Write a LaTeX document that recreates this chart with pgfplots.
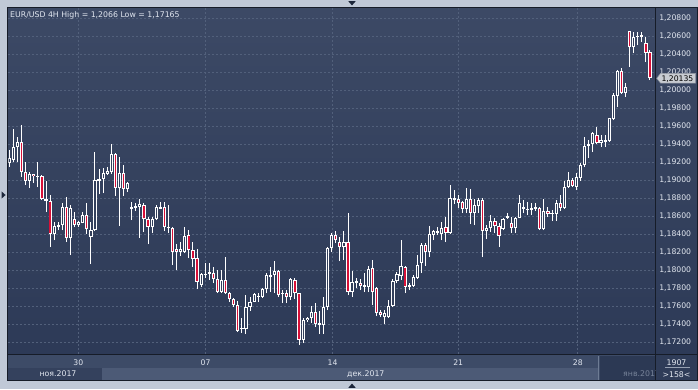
\documentclass[border=0pt]{standalone}
\usepackage{pgfplots}
\pgfplotsset{compat=1.18}
\usepackage{pgfplotstable}
\usepackage{fontspec}
\setmainfont{DejaVu Sans}
\definecolor{outerbg}{RGB}{192,201,215}
\definecolor{bgtop}{RGB}{60,73,101}
\definecolor{bgbot}{RGB}{45,58,87}
\definecolor{gridc}{RGB}{82,96,123}
\definecolor{candred}{RGB}{215,16,56}
\definecolor{hollow}{RGB}{51,64,92}
\definecolor{txt}{RGB}{226,231,240}
\definecolor{framec}{RGB}{22,28,40}
\definecolor{dayrow}{RGB}{61,75,103}
\definecolor{monleft}{RGB}{52,65,93}
\definecolor{monstrip}{RGB}{76,90,118}
\definecolor{mondark}{RGB}{44,57,84}
\definecolor{sepline}{RGB}{110,124,148}
\definecolor{boxbg}{RGB}{47,60,88}
\definecolor{dimtxt}{RGB}{118,130,152}
\definecolor{boxline}{RGB}{150,160,178}
\definecolor{pricebg}{RGB}{200,204,210}
\definecolor{priceedge}{RGB}{140,146,158}
\definecolor{navtri}{RGB}{28,38,58}

\pgfplotstableread{
i o h l c
1 1.19192 1.19336 1.19147 1.19247
2 1.19225 1.19570 1.19203 1.19370
3 1.19370 1.19481 1.19203 1.19425
6 1.18992 1.19092 1.18914 1.19070
10 1.18770 1.18992 1.18647 1.18792
12 1.18403 1.18536 1.18336 1.18492
13 1.18481 1.18536 1.18447 1.18503
14 1.18503 1.18747 1.18447 1.18703
16 1.18359 1.18725 1.18170 1.18692
18 1.18503 1.18547 1.18481 1.18536
19 1.18525 1.18647 1.18525 1.18614
21 1.18370 1.18536 1.18070 1.18447
22 1.18447 1.19314 1.18436 1.19003
23 1.18992 1.19125 1.18847 1.19014
24 1.19014 1.19136 1.18859 1.19081
25 1.19070 1.19147 1.19059 1.19103
26 1.19092 1.19403 1.19070 1.19292
28 1.18914 1.19259 1.18492 1.19081
30 1.18903 1.18981 1.18870 1.18970
31 1.18681 1.18759 1.18559 1.18703
32 1.18692 1.18747 1.18659 1.18714
33 1.18703 1.18792 1.18359 1.18736
36 1.18481 1.18592 1.18414 1.18570
37 1.18570 1.18725 1.18559 1.18703
38 1.18681 1.18759 1.18681 1.18703
40 1.18470 1.18725 1.18414 1.18481
43 1.18203 1.18314 1.18159 1.18236
44 1.18203 1.18481 1.18192 1.18381
48 1.17836 1.17970 1.17814 1.17959
49 1.17947 1.18081 1.17914 1.17959
50 1.17959 1.18081 1.17892 1.17981
53 1.17759 1.18003 1.17747 1.17892
58 1.17347 1.17470 1.17303 1.17359
59 1.17347 1.17725 1.17292 1.17592
60 1.17592 1.17703 1.17547 1.17647
61 1.17647 1.17747 1.17647 1.17736
62 1.17703 1.17747 1.17647 1.17714
63 1.17703 1.17803 1.17692 1.17792
64 1.17792 1.17970 1.17747 1.17947
65 1.17925 1.18036 1.17759 1.17947
66 1.17947 1.18103 1.17747 1.17992
68 1.17736 1.17781 1.17636 1.17747
70 1.17703 1.17914 1.17670 1.17903
73 1.17225 1.17470 1.17192 1.17447
74 1.17447 1.17481 1.17425 1.17470
75 1.17470 1.17603 1.17414 1.17536
78 1.17392 1.17703 1.17292 1.17592
79 1.17592 1.18259 1.17559 1.18247
80 1.18247 1.18414 1.18203 1.18392
83 1.18259 1.18436 1.18114 1.18314
85 1.17759 1.17992 1.17703 1.17870
88 1.17814 1.17970 1.17759 1.17836
89 1.17814 1.18047 1.17759 1.18014
93 1.17481 1.17559 1.17403 1.17525
94 1.17481 1.17670 1.17470 1.17603
95 1.17603 1.17903 1.17592 1.17881
96 1.17881 1.17981 1.17859 1.17959
97 1.17936 1.18336 1.17892 1.18047
99 1.17814 1.17859 1.17781 1.17836
100 1.17825 1.17947 1.17814 1.17925
101 1.17914 1.18170 1.17903 1.18059
102 1.18081 1.18303 1.17970 1.18281
104 1.18203 1.18492 1.18147 1.18403
105 1.18392 1.18447 1.18336 1.18436
106 1.18414 1.18481 1.18392 1.18436
107 1.18403 1.18536 1.18336 1.18470
109 1.18414 1.18947 1.18403 1.18803
110 1.18781 1.18892 1.18736 1.18803
113 1.18681 1.18914 1.18636 1.18792
115 1.18636 1.18792 1.18503 1.18725
116 1.18714 1.18803 1.18636 1.18781
118 1.18436 1.18503 1.18347 1.18470
119 1.18470 1.18614 1.18425 1.18547
122 1.18459 1.18581 1.18447 1.18570
123 1.18581 1.18636 1.18570 1.18603
125 1.18470 1.18592 1.18414 1.18581
126 1.18581 1.18836 1.18581 1.18747
127 1.18681 1.18781 1.18636 1.18703
128 1.18670 1.18759 1.18614 1.18681
129 1.18670 1.18747 1.18614 1.18692
130 1.18681 1.18747 1.18659 1.18703
132 1.18459 1.18792 1.18447 1.18659
134 1.18625 1.18670 1.18547 1.18636
135 1.18625 1.18781 1.18547 1.18747
137 1.18692 1.18992 1.18681 1.18925
138 1.18925 1.19092 1.18914 1.19003
140 1.18925 1.19081 1.18892 1.19036
141 1.19025 1.19192 1.18992 1.19170
142 1.19170 1.19481 1.19147 1.19381
143 1.19381 1.19447 1.19247 1.19403
144 1.19403 1.19536 1.19314 1.19525
146 1.19414 1.19503 1.19370 1.19447
147 1.19425 1.19503 1.19370 1.19447
148 1.19436 1.19692 1.19425 1.19692
149 1.19681 1.19970 1.19670 1.19947
150 1.19936 1.20225 1.19814 1.20214
152 1.19970 1.20081 1.19925 1.20036
154 1.20481 1.20647 1.20414 1.20592
155 1.20592 1.20647 1.20503 1.20603
156 1.20592 1.20647 1.20536 1.20614
}\bull

\pgfplotstableread{
i o h l c
4 1.19425 1.19614 1.19036 1.19092
5 1.19092 1.19203 1.18947 1.18992
7 1.19070 1.19070 1.18970 1.19047
8 1.19047 1.19203 1.18925 1.19036
9 1.19047 1.19059 1.18781 1.18792
11 1.18770 1.18836 1.18259 1.18403
15 1.18703 1.18814 1.18314 1.18359
17 1.18570 1.18647 1.18481 1.18503
20 1.18614 1.18747 1.18403 1.18459
27 1.19292 1.19303 1.18825 1.18914
29 1.19081 1.19170 1.18825 1.18903
34 1.18725 1.18747 1.18425 1.18570
35 1.18570 1.18592 1.18292 1.18481
39 1.18703 1.18759 1.18436 1.18481
41 1.18470 1.18481 1.18059 1.18203
42 1.18236 1.18292 1.18003 1.18203
45 1.18392 1.18447 1.18136 1.18225
46 1.18225 1.18314 1.18036 1.18125
47 1.18136 1.18236 1.17792 1.17870
51 1.17970 1.18036 1.17859 1.17903
52 1.17903 1.18003 1.17747 1.17759
54 1.17892 1.18147 1.17736 1.17747
55 1.17747 1.17759 1.17647 1.17681
56 1.17681 1.17692 1.17592 1.17614
57 1.17614 1.17659 1.17314 1.17325
67 1.17992 1.18003 1.17703 1.17725
69 1.17747 1.17781 1.17636 1.17703
71 1.17892 1.17914 1.17681 1.17747
72 1.17747 1.17747 1.17170 1.17225
76 1.17536 1.17636 1.17370 1.17403
77 1.17414 1.17547 1.17292 1.17392
81 1.18392 1.18436 1.18303 1.18336
82 1.18314 1.18370 1.18103 1.18259
84 1.18314 1.18636 1.17725 1.17759
86 1.17881 1.17914 1.17803 1.17859
87 1.17859 1.17903 1.17781 1.17825
90 1.18025 1.18114 1.17614 1.17759
91 1.17803 1.17814 1.17492 1.17525
92 1.17536 1.17559 1.17481 1.17503
98 1.18036 1.18047 1.17747 1.17814
103 1.18281 1.18303 1.18047 1.18203
108 1.18481 1.18592 1.18314 1.18414
111 1.18792 1.18836 1.18692 1.18747
112 1.18759 1.18770 1.18636 1.18681
114 1.18792 1.18903 1.18514 1.18636
117 1.18781 1.18803 1.18147 1.18436
120 1.18547 1.18581 1.18414 1.18492
121 1.18492 1.18525 1.18259 1.18381
124 1.18525 1.18592 1.18414 1.18470
131 1.18692 1.18703 1.18447 1.18459
133 1.18659 1.18703 1.18592 1.18625
136 1.18747 1.18836 1.18659 1.18692
139 1.19003 1.19025 1.18925 1.18936
145 1.19503 1.19592 1.19403 1.19414
151 1.20214 1.20247 1.19959 1.19970
153 1.20659 1.20659 1.20259 1.20481
157 1.20525 1.20592 1.20314 1.20414
158 1.20425 1.20447 1.20114 1.20135
}\bear

\begin{document}
\fontsize{7.8}{9}\selectfont
\begin{tikzpicture}[x=1pt,y=1pt]
\useasboundingbox (0,0) rectangle (698,389);
% frame and backgrounds
\fill[outerbg] (0,0) rectangle (698,389);
\shade[top color=bgtop, bottom color=bgbot] (8,35) rectangle (697,381);
\fill[dayrow] (8,8) rectangle (655.7,35);
\fill[monleft] (8,8) rectangle (102,21);
\fill[monstrip] (102,9) rectangle (598,21);
\fill[mondark] (600,8.5) rectangle (655.7,33);
\draw[sepline, line width=0.8pt] (598.8,8.5) -- (598.8,33);
\fill[boxbg] (655.7,8) rectangle (697,35);

\begin{axis}[
  at={(8.3pt,35pt)}, anchor=south west,
  scale only axis, width=647.4pt, height=345.7pt,
  xmin=0.755, xmax=159.4, ymin=1.170703, ymax=1.209111,
  axis line style={draw=none},
  major tick length=0pt,
  xtick={17.9,49.1,80.2,111.0,140.3},
  xticklabels={30,07,14,21,28},
  xticklabel style={anchor=base, yshift=-11.5pt, inner sep=0pt, text=txt,
    font=\fontsize{7.7}{9}\selectfont},
  ytick={1.172,1.174,1.176,1.178,1.180,1.182,1.184,1.186,1.188,1.190,1.192,1.194,1.196,1.198,1.200,1.202,1.204,1.206,1.208},
  yticklabel pos=right,
  scaled y ticks=false,
  yticklabel style={anchor=west, inner sep=0pt, xshift=3.4pt, text=txt,
    font=\fontsize{7.7}{9}\selectfont,
    /pgf/number format/.cd, fixed, fixed zerofill, precision=5, use comma, assume math mode=true},
  grid=major,
  grid style={dash pattern=on 2pt off 2pt, color=gridc, line width=0.8pt},
  candle/.style={forget plot, draw=none, mark=none, error bars/.cd, y dir=plus, y explicit, error mark=none},
]
% wicks
\addplot[candle, error bar style={draw=white, line width=1pt, solid}]
  table[x=i, y=l, y error plus expr=\thisrow{h}-\thisrow{l}] {\bull};
\addplot[candle, error bar style={draw=white, line width=1pt, solid}]
  table[x=i, y=l, y error plus expr=\thisrow{h}-\thisrow{l}] {\bear};
% bull bodies (hollow)
\addplot[candle, error bar style={draw=white, line width=3.2pt, solid, line cap=butt}]
  table[x=i, y=o, y error plus expr=\thisrow{c}-\thisrow{o}] {\bull};
\addplot[candle, error bar style={draw=hollow, line width=1.2pt, solid, line cap=butt}]
  table[x=i, y expr=\thisrow{o}+0.000111, y error plus expr={max(\thisrow{c}-\thisrow{o}-0.000222,0)}] {\bull};
% bear bodies (red)
\addplot[candle, error bar style={draw=white, line width=3.2pt, solid, line cap=butt}]
  table[x=i, y=c, y error plus expr=\thisrow{o}-\thisrow{c}] {\bear};
\addplot[candle, error bar style={draw=candred, line width=1.3pt, solid, line cap=butt}]
  table[x=i, y expr=\thisrow{c}+0.000111, y error plus expr={max(\thisrow{o}-\thisrow{c}-0.000222,0)}] {\bear};
\end{axis}

% borders
\draw[framec, line width=1pt] (8,35) -- (697,35);
\draw[framec, line width=1pt] (655.7,8) -- (655.7,381);
\draw[framec, line width=1pt] (7.5,8.5) rectangle (697.5,381.5);

% texts
\node[anchor=base west, inner sep=0pt, text=txt] at (10,371.7) {EUR/USD 4H High = 1,2066 Low = 1,17165};
\node[anchor=base, inner sep=0pt, text=txt] at (58,12.3) {ноя.2017};
\node[anchor=base west, inner sep=0pt, text=txt] at (347,12.3) {дек.2017};
\begin{scope}
\clip (600,8.5) rectangle (655.2,33);
\node[anchor=base west, inner sep=0pt, text=dimtxt] at (623,12.3) {янв.2017};
\end{scope}
\node[anchor=base, inner sep=0pt, text=txt] at (676.5,24) {1907};
\draw[boxline, line width=0.8pt] (665,21.3) -- (690,21.3);
\node[anchor=base, inner sep=0pt, text=txt] at (676.5,11.7) {>158<};

% last price marker
\filldraw[fill=pricebg, draw=priceedge, line width=0.5pt]
  (656.7,310.7) -- (660.5,315.5) -- (695.5,315.5) -- (695.5,305.9) -- (660.5,305.9) -- cycle;
\node[anchor=base west, inner sep=0pt, text=black, font=\fontsize{7.7}{9}\selectfont] at (661.3,307.6) {1,20135};

% small navigation triangles
\fill[navtri] (348.3,387.8) -- (355.7,387.8) -- (352,383.6) -- cycle;
\fill[navtri] (348.3,1.2) -- (355.7,1.2) -- (352,5.4) -- cycle;
\fill[navtri] (1.5,197.6) -- (1.5,190.4) -- (5.6,194) -- cycle;
\end{tikzpicture}
\end{document}
